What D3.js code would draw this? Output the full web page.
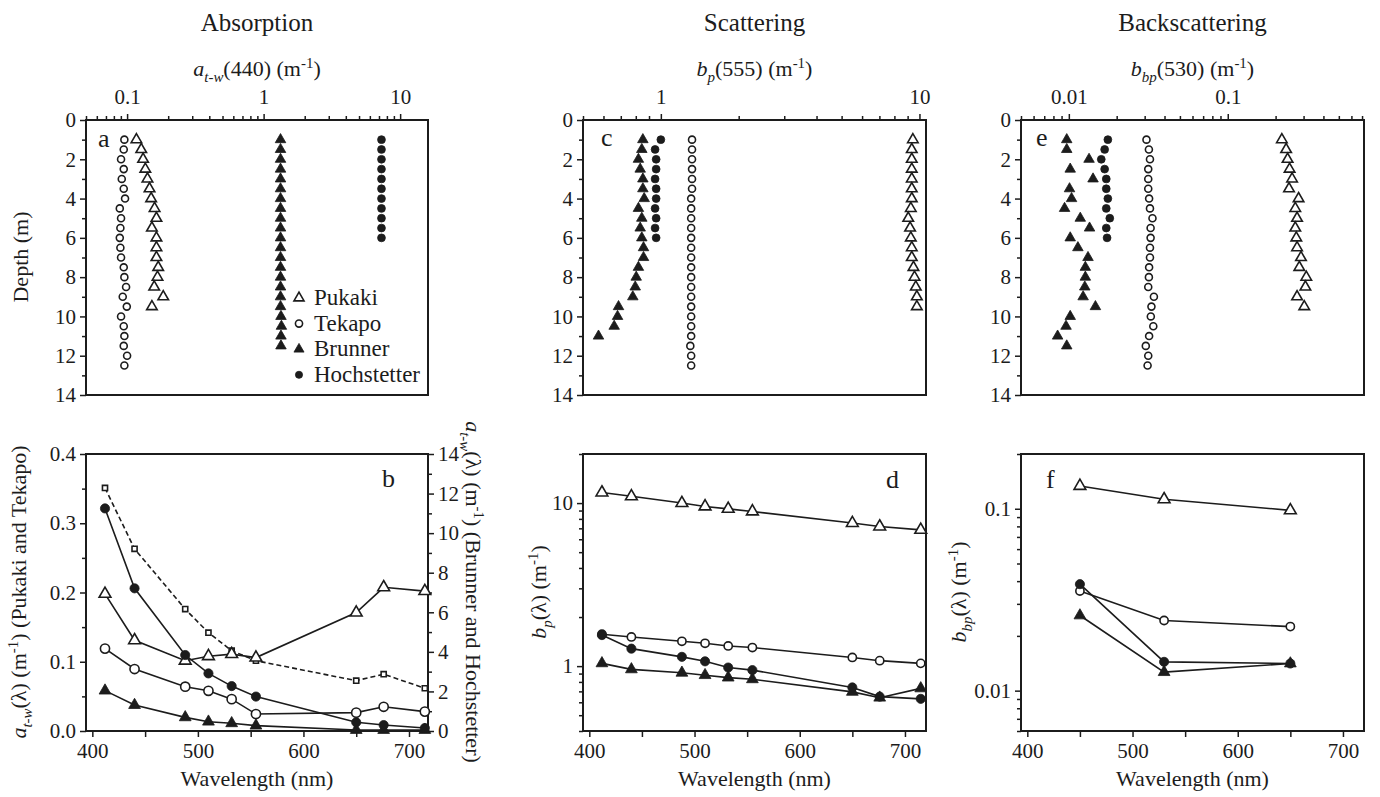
<!DOCTYPE html>
<html>
<head>
<meta charset="utf-8">
<script src="https://cdn.jsdelivr.net/npm/d3@7"></script>
<style>
  body { margin: 0; background: #fff; }
  svg text { font-family: "Liberation Serif", "Tinos", "Times New Roman", "Nimbus Roman", "DejaVu Serif", "Noto Serif", serif; fill: #1c1c1c; }
</style>
</head>
<body>
<svg id="chart" width="1380" height="797"></svg>
<script>
// ---- data ----
const lakeNames = ["Pukaki", "Tekapo", "Brunner", "Hochstetter"];

const depthTicks = [0, 2, 4, 6, 8, 10, 12, 14];
const depthMinor = [1, 3, 5, 7, 9, 11, 13];
const wavelengthTicks = [400, 500, 600, 700];
const wavelengthMinor = [450, 550, 650];
const absTopTicks = [0.1, 1, 10];
const scatTopTicks = [1, 10];
const backTopTicks = [0.01, 0.1];
const absLeftTicks = [0, 0.1, 0.2, 0.3, 0.4];
const absLeftMinor = [0.05, 0.15, 0.25, 0.35];
const absRightTicks = [0, 2, 4, 6, 8, 10, 12, 14];
const absRightMinor = [1, 3, 5, 7, 9, 11, 13];
const scatLogTicks = [1, 10];
const backLogTicks = [0.01, 0.1];

// depths (m)
const depthPukaki = [1, 1.5, 2, 2.5, 3, 3.5, 4, 4.5, 5, 5.5, 6, 6.5, 7, 7.5, 8, 8.5, 9, 9.5];
const depthTekapo = [1, 1.5, 2, 2.5, 3, 3.5, 4, 4.5, 5, 5.5, 6, 6.5, 7, 7.5, 8, 8.5, 9, 9.5, 10, 10.5, 11, 11.5, 12, 12.5];
const depthBrunner = [1, 1.5, 2, 2.5, 3, 3.5, 4, 4.5, 5, 5.5, 6, 6.5, 7, 7.5, 8, 8.5, 9, 9.5, 10, 10.5, 11, 11.5];
const depthBrunnerScat = [1, 1.5, 2, 2.5, 3, 3.5, 4, 4.5, 5, 5.5, 6, 6.5, 7, 7.5, 8, 8.5, 9, 9.5, 10, 10.5, 11];
const depthHoch = [1, 1.5, 2, 2.5, 3, 3.5, 4, 4.5, 5, 5.5, 6];

// panel a: a_t-w(440)
const absPukaki = [0.117, 0.127, 0.131, 0.136, 0.141, 0.146, 0.150, 0.159, 0.164, 0.152, 0.164, 0.164, 0.164, 0.169, 0.167, 0.158, 0.184, 0.152];
const absTekapo = [0.0955, 0.0945, 0.0903, 0.0945, 0.0914, 0.0945, 0.0966, 0.0884, 0.0903, 0.0893, 0.0884, 0.0893, 0.0903, 0.0945, 0.0955, 0.0983, 0.0929, 0.0995, 0.0903, 0.0945, 0.0955, 0.0945, 0.1, 0.0955];
const absBrunner = [1.33, 1.33, 1.33, 1.33, 1.33, 1.33, 1.33, 1.33, 1.33, 1.33, 1.33, 1.33, 1.33, 1.33, 1.33, 1.33, 1.33, 1.33, 1.34, 1.35, 1.34, 1.34];
const absHoch = [7.3, 7.3, 7.3, 7.3, 7.3, 7.3, 7.3, 7.3, 7.3, 7.3, 7.3];

// panel c: b_p(555)
const scatPukaki = [9.43, 9.34, 9.34, 9.34, 9.34, 9.34, 9.34, 9.26, 9.05, 9.2, 9.26, 9.34, 9.34, 9.48, 9.57, 9.68, 9.77, 9.77];
const scatTekapo = [1.32, 1.32, 1.32, 1.32, 1.32, 1.32, 1.31, 1.31, 1.31, 1.31, 1.31, 1.31, 1.31, 1.31, 1.31, 1.31, 1.31, 1.31, 1.31, 1.31, 1.31, 1.30, 1.31, 1.31];
const scatBrunner = [0.852, 0.844, 0.819, 0.832, 0.852, 0.852, 0.862, 0.819, 0.844, 0.832, 0.844, 0.857, 0.857, 0.819, 0.803, 0.796, 0.779, 0.686, 0.680, 0.660, 0.574];
const scatHoch = [1.0, 0.95, 0.959, 0.959, 0.95, 0.959, 0.959, 0.95, 0.959, 0.95, 0.959];

// panel e: b_bp(530)
const backPukaki = [0.219, 0.233, 0.238, 0.245, 0.254, 0.243, 0.279, 0.266, 0.273, 0.266, 0.270, 0.273, 0.289, 0.282, 0.312, 0.308, 0.273, 0.303];
const backTekapo = [0.0308, 0.0319, 0.0324, 0.0316, 0.0316, 0.0316, 0.0320, 0.0324, 0.0336, 0.0327, 0.0327, 0.0324, 0.0324, 0.0320, 0.0319, 0.0316, 0.0343, 0.0331, 0.0328, 0.0340, 0.0320, 0.0305, 0.0316, 0.0313];
const backBrunner = [0.0097, 0.0097, 0.0134, 0.0102, 0.0142, 0.0101, 0.0104, 0.0094, 0.0118, 0.0135, 0.0102, 0.0114, 0.0132, 0.0127, 0.0127, 0.0126, 0.0123, 0.0147, 0.0102, 0.0096, 0.0085, 0.0097];
const backHoch = [0.0176, 0.0168, 0.0160, 0.0168, 0.0172, 0.0172, 0.0176, 0.0172, 0.0181, 0.0172, 0.0174];

// panel b: spectral absorption
const wlSpec = [412, 440, 488, 510, 532, 555, 650, 676, 715];
const specAbsPukaki = [0.198, 0.131, 0.1015, 0.108, 0.111, 0.106, 0.171, 0.2075, 0.202];
const specAbsTekapo = [0.119, 0.0895, 0.064, 0.058, 0.046, 0.0245, 0.0265, 0.035, 0.028];
const specAbsDashed = [0.351, 0.263, 0.176, 0.142, 0.116, 0.1015, 0.0727, 0.082, 0.0617];
const specAbsBrunner = [2.04, 1.31, 0.69, 0.47, 0.39, 0.27, 0.05, 0.05, 0.05];
const specAbsHoch = [11.25, 7.21, 3.84, 2.91, 2.27, 1.74, 0.44, 0.30, 0.15];

// panel d: spectral scattering
const specScatPukaki = [11.6, 11.0, 10.0, 9.53, 9.22, 8.88, 7.54, 7.18, 6.85];
const specScatTekapo = [1.57, 1.51, 1.42, 1.38, 1.33, 1.30, 1.13, 1.08, 1.04];
const specScatHoch = [1.55, 1.28, 1.14, 1.07, 0.98, 0.945, 0.74, 0.65, 0.63];
const specScatBrunner = [1.04, 0.955, 0.91, 0.88, 0.85, 0.83, 0.695, 0.64, 0.73];

// panel f: spectral backscattering
const wlBack = [450, 530, 650];
const specBackPukaki = [0.1335, 0.1127, 0.098];
const specBackTekapo = [0.0353, 0.0243, 0.0225];
const specBackHoch = [0.0385, 0.0144, 0.0141];
const specBackBrunner = [0.0259, 0.01264, 0.0141];

// ---- drawing ----
const ink = "#1c1c1c";
const serif = "Liberation Serif, Tinos, Times New Roman, DejaVu Serif, serif";
const tickFont = 21;
const svg = d3.select("#chart");

const cols = [[86, 428], [583, 926], [1021, 1364]];
const topRows = [120, 395];
const botRows = [454, 731];

function frame(xr, yr) {
  svg.append("rect")
    .attr("x", xr[0]).attr("y", yr[0])
    .attr("width", xr[1] - xr[0]).attr("height", yr[1] - yr[0])
    .attr("fill", "none").attr("stroke", ink).attr("stroke-width", 2);
}

function styleAxis(g) {
  g.attr("font-size", tickFont).attr("font-family", null);
  g.select(".domain").remove();
  g.selectAll(".tick line").attr("stroke", ink).attr("stroke-width", 1.5);
  g.selectAll(".tick text").attr("fill", ink);
  return g;
}

function addAxis(axis, tx, ty) {
  const g = svg.append("g").attr("transform", `translate(${tx},${ty})`).call(axis);
  return styleAxis(g);
}

function logMinor(scale, majors) {
  return scale.ticks().filter((t) => !majors.some((m) => Math.abs(m - t) / m < 1e-6));
}

// rich text: parts = [text, kind] kind: "" | "i" | "sub" | "sup"
function richText(sel, parts, size) {
  let shift = 0;
  parts.forEach(([t, kind]) => {
    const ts = sel.append("tspan").text(t);
    let target = 0;
    if (kind === "sub") target = size * 0.28;
    if (kind === "sup") target = -size * 0.38;
    if (target - shift !== 0) ts.attr("dy", target - shift);
    shift = target;
    if (kind === "i" || kind === "sub") ts.attr("font-style", "italic");
    if (kind === "sub" || kind === "sup") ts.attr("font-size", size * 0.68);
  });
}

function label(x, y, parts, size, rotate) {
  const t = svg.append("text")
    .attr("text-anchor", "middle")
    .attr("font-size", size)
    .attr("transform", `translate(${x},${y})` + (rotate ? ` rotate(${rotate})` : ""));
  richText(t, parts, size);
  return t;
}

function letter(x, y, s) {
  svg.append("text").attr("x", x).attr("y", y).attr("font-size", 26).text(s);
}

function markers(xs, ys, xv, yv, shape, filled, size) {
  svg.append("g")
    .selectAll("path")
    .data(d3.zip(xv, yv))
    .enter()
    .append("path")
    .attr("d", d3.symbol(shape, size))
    .attr("transform", (d) => `translate(${xs(d[0])},${ys(d[1])})`)
    .attr("fill", filled ? ink : "#fff")
    .attr("stroke", ink)
    .attr("stroke-width", filled ? 0.8 : 1.6);
}

function polyline(xs, ys, xv, yv, dashed) {
  svg.append("path")
    .datum(d3.zip(xv, yv))
    .attr("d", d3.line().x((d) => xs(d[0])).y((d) => ys(d[1])))
    .attr("fill", "none")
    .attr("stroke", ink)
    .attr("stroke-width", 1.6)
    .attr("stroke-dasharray", dashed ? "5,3" : null);
}

const TRI = d3.symbolTriangle, CIR = d3.symbolCircle, SQ = d3.symbolSquare;
const triDepth = 48, cirDepth = 48, triSpec = 60, cirSpec = 66;

// titles
const titles = ["Absorption", "Scattering", "Backscattering"];
titles.forEach((t, i) => {
  svg.append("text")
    .attr("x", (cols[i][0] + cols[i][1]) / 2).attr("y", 31)
    .attr("text-anchor", "middle").attr("font-size", 25).text(t);
});

// ---------- depth profile panels ----------
const yDepth = d3.scaleLinear([0, 14], topRows);

function depthPanel(col, xs, topTicks, topLabel) {
  const xr = cols[col];
  frame(xr, topRows);
  addAxis(d3.axisLeft(yDepth).tickValues(depthTicks).tickSize(6).tickPadding(4).tickSizeOuter(0), xr[0], 0);
  addAxis(d3.axisLeft(yDepth).tickValues(depthMinor).tickSize(4).tickFormat("").tickSizeOuter(0), xr[0], 0);
  addAxis(d3.axisTop(xs).tickValues(topTicks).tickSize(6).tickPadding(10).tickFormat(d3.format("~g")).tickSizeOuter(0), 0, topRows[0]);
  addAxis(d3.axisTop(xs).tickValues(logMinor(xs, topTicks)).tickSize(4).tickFormat("").tickSizeOuter(0), 0, topRows[0]);
  label((xr[0] + xr[1]) / 2, 76, topLabel, 22);
}

// panel a
const xA = d3.scaleLog([0.05, 16], cols[0]);
depthPanel(0, xA, absTopTicks, [["a", "i"], ["t-w", "sub"], ["(440) (m", ""], ["-1", "sup"], [")", ""]]);
markers(xA, yDepth, absTekapo, depthTekapo, CIR, false, cirDepth * 0.8);
markers(xA, yDepth, absPukaki, depthPukaki, TRI, false, triDepth);
markers(xA, yDepth, absBrunner, depthBrunner, TRI, true, triDepth);
markers(xA, yDepth, absHoch, depthHoch, CIR, true, cirDepth);
letter(98, 147, "a");
label(28, 257, [["Depth (m)", ""]], 22, -90);

// legend in panel a
const legendShapes = [[TRI, false], [CIR, false], [TRI, true], [CIR, true]];
lakeNames.forEach((name, i) => {
  const y = 298 + i * 25.6;
  svg.append("path")
    .attr("d", d3.symbol(legendShapes[i][0], legendShapes[i][0] === TRI ? 44 : 40))
    .attr("transform", `translate(299,${y})`)
    .attr("fill", legendShapes[i][1] ? ink : "#fff")
    .attr("stroke", ink).attr("stroke-width", legendShapes[i][1] ? 0.8 : 1.6);
  svg.append("text").attr("x", 314).attr("y", y + 7).attr("font-size", 23).text(name);
});

// panel c
const xC = d3.scaleLog([0.5, 10.6], cols[1]);
depthPanel(1, xC, scatTopTicks, [["b", "i"], ["p", "sub"], ["(555) (m", ""], ["-1", "sup"], [")", ""]]);
markers(xC, yDepth, scatTekapo, depthTekapo, CIR, false, cirDepth * 0.8);
markers(xC, yDepth, scatPukaki, depthPukaki, TRI, false, triDepth);
markers(xC, yDepth, scatBrunner, depthBrunnerScat, TRI, true, triDepth);
markers(xC, yDepth, scatHoch, depthHoch, CIR, true, cirDepth);
letter(601, 146, "c");

// panel e
const xE = d3.scaleLog([0.005, 0.72], cols[2]);
depthPanel(2, xE, backTopTicks, [["b", "i"], ["bp", "sub"], ["(530) (m", ""], ["-1", "sup"], [")", ""]]);
markers(xE, yDepth, backTekapo, depthTekapo, CIR, false, cirDepth * 0.8);
markers(xE, yDepth, backPukaki, depthPukaki, TRI, false, triDepth);
markers(xE, yDepth, backBrunner, depthBrunner, TRI, true, triDepth);
markers(xE, yDepth, backHoch, depthHoch, CIR, true, cirDepth);
letter(1036, 146, "e");

// ---------- spectral panels ----------
function wavelengthAxis(xs) {
  addAxis(d3.axisBottom(xs).tickValues(wavelengthTicks).tickSize(6).tickPadding(6).tickSizeOuter(0), 0, botRows[1]);
  addAxis(d3.axisBottom(xs).tickValues(wavelengthMinor).tickSize(6).tickFormat("").tickSizeOuter(0), 0, botRows[1]);
}

// panel b
const xB = d3.scaleLinear([394, 718], cols[0]);
const yBL = d3.scaleLinear([0, 0.4], [botRows[1], botRows[0]]);
const yBR = d3.scaleLinear([0, 14], [botRows[1], botRows[0]]);
frame(cols[0], botRows);
wavelengthAxis(xB);
addAxis(d3.axisLeft(yBL).tickValues(absLeftTicks).tickSize(6).tickPadding(4).tickFormat(d3.format(".1f")).tickSizeOuter(0), cols[0][0], 0);
addAxis(d3.axisLeft(yBL).tickValues(absLeftMinor).tickSize(4).tickFormat("").tickSizeOuter(0), cols[0][0], 0);
addAxis(d3.axisRight(yBR).tickValues(absRightTicks).tickSize(6).tickPadding(4).tickSizeOuter(0), cols[0][1], 0);
addAxis(d3.axisRight(yBR).tickValues(absRightMinor).tickSize(4).tickFormat("").tickSizeOuter(0), cols[0][1], 0);

polyline(xB, yBL, wlSpec, specAbsDashed, true);
polyline(xB, yBL, wlSpec, specAbsPukaki, false);
polyline(xB, yBL, wlSpec, specAbsTekapo, false);
polyline(xB, yBR, wlSpec, specAbsBrunner, false);
polyline(xB, yBR, wlSpec, specAbsHoch, false);
markers(xB, yBL, wlSpec, specAbsDashed, SQ, false, 26);
markers(xB, yBL, wlSpec, specAbsPukaki, TRI, false, triSpec);
markers(xB, yBL, wlSpec, specAbsTekapo, CIR, false, cirSpec);
markers(xB, yBR, wlSpec, specAbsBrunner, TRI, true, triSpec);
markers(xB, yBR, wlSpec, specAbsHoch, CIR, true, cirSpec);
letter(382, 487, "b");
label(26, 592, [["a", "i"], ["t-w", "sub"], ["(\u03bb) (m", ""], ["-1", "sup"], [") (Pukaki and Tekapo)", ""]], 22, -90);
label(466, 592, [["a", "i"], ["t-w", "sub"], ["(\u03bb) (m", ""], ["-1", "sup"], [") (Brunner and Hochstetter)", ""]], 22, 90);
label((cols[0][0] + cols[0][1]) / 2, 786, [["Wavelength (nm)", ""]], 22);

// panel d
const xD = d3.scaleLinear([394, 720], cols[1]);
const yD = d3.scaleLog([0.4, 20], [botRows[1], botRows[0]]);
frame(cols[1], botRows);
wavelengthAxis(xD);
addAxis(d3.axisLeft(yD).tickValues(scatLogTicks).tickSize(6).tickPadding(4).tickFormat(d3.format("~g")).tickSizeOuter(0), cols[1][0], 0);
addAxis(d3.axisLeft(yD).tickValues(logMinor(yD, scatLogTicks)).tickSize(4).tickFormat("").tickSizeOuter(0), cols[1][0], 0);
[specScatPukaki, specScatTekapo, specScatHoch, specScatBrunner].forEach((s) => polyline(xD, yD, wlSpec, s, false));
markers(xD, yD, wlSpec, specScatPukaki, TRI, false, triSpec);
markers(xD, yD, wlSpec, specScatTekapo, CIR, false, cirSpec * 0.8);
markers(xD, yD, wlSpec, specScatBrunner, TRI, true, triSpec);
markers(xD, yD, wlSpec, specScatHoch, CIR, true, cirSpec);
letter(886, 488, "d");
label(546, 592, [["b", "i"], ["p", "sub"], ["(\u03bb) (m", ""], ["-1", "sup"], [")", ""]], 22, -90);
label((cols[1][0] + cols[1][1]) / 2, 786, [["Wavelength (nm)", ""]], 22);

// panel f
const xF = d3.scaleLinear([394, 720], cols[2]);
const yF = d3.scaleLog([0.006, 0.2], [botRows[1], botRows[0]]);
frame(cols[2], botRows);
wavelengthAxis(xF);
addAxis(d3.axisLeft(yF).tickValues(backLogTicks).tickSize(6).tickPadding(4).tickFormat(d3.format("~g")).tickSizeOuter(0), cols[2][0], 0);
addAxis(d3.axisLeft(yF).tickValues(logMinor(yF, backLogTicks)).tickSize(4).tickFormat("").tickSizeOuter(0), cols[2][0], 0);
[specBackPukaki, specBackTekapo, specBackHoch, specBackBrunner].forEach((s) => polyline(xF, yF, wlBack, s, false));
markers(xF, yF, wlBack, specBackPukaki, TRI, false, triSpec);
markers(xF, yF, wlBack, specBackTekapo, CIR, false, cirSpec * 0.8);
markers(xF, yF, wlBack, specBackBrunner, TRI, true, triSpec);
markers(xF, yF, wlBack, specBackHoch, CIR, true, cirSpec);
letter(1046, 488, "f");
label(966, 592, [["b", "i"], ["bp", "sub"], ["(\u03bb) (m", ""], ["-1", "sup"], [")", ""]], 22, -90);
label((cols[2][0] + cols[2][1]) / 2, 786, [["Wavelength (nm)", ""]], 22);
</script>
</body>
</html>
